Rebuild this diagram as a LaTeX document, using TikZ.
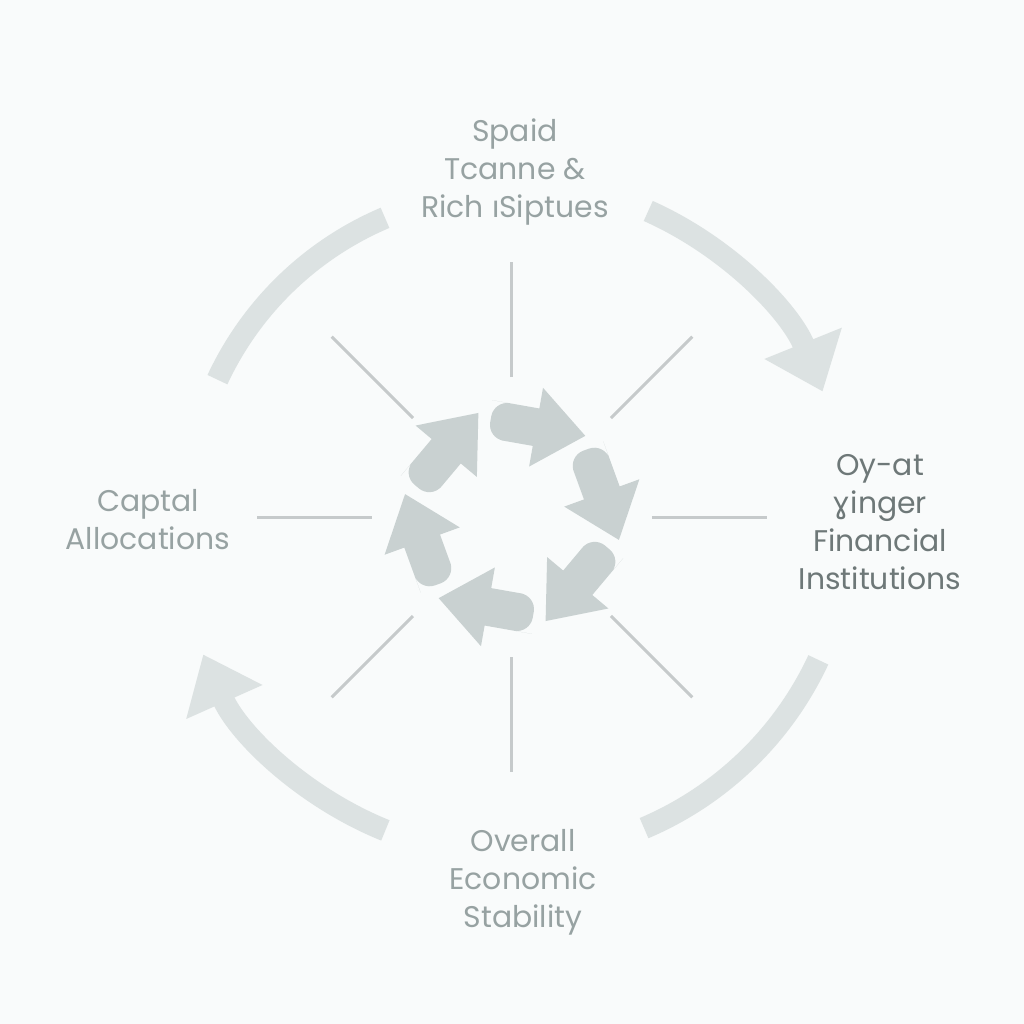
\documentclass[tikz,border=0pt]{standalone}
\usepackage{fontspec}
\setmainfont{Poppins}
\newfontfamily\ipafont{DejaVu Sans}
\usepackage{tikz}
\usetikzlibrary{arrows.meta}
\definecolor{Paper}{HTML}{F9FBFB}
\definecolor{Ring}{HTML}{DCE2E2}
\definecolor{Core}{HTML}{C9D1D1}
\definecolor{Spoke}{HTML}{C6CACB}
\definecolor{Ink}{HTML}{97A2A2}
\definecolor{InkDark}{HTML}{6E7878}

\begin{document}
\begin{tikzpicture}[
  every node/.style={font=\fontsize{8.5}{10.8}\selectfont,text=Ink,align=center},
  ring/.style={line width=2.2mm,Ring},
  ringarr/.style={ring,-{Triangle[width=8mm,length=5.2mm]}},
  spoke/.style={line width=0.3mm,Spoke},
  core/.style={fill=Core}
]
\fill[Paper] (-5.12,-5.12) rectangle (5.12,5.12);
\coordinate (hub) at (0,-0.05);
% outer ring
\draw[ring] (hub) ++(155:3.25) arc[start angle=155,end angle=113,radius=3.25];
\draw[ringarr] (hub) ++(66:3.35) arc[start angle=66,end angle=22,radius=3.35];
\draw[ring] (hub) ++(-25:3.38) arc[start angle=-25,end angle=-67,radius=3.38];
\draw[ringarr] (hub) ++(-112:3.38) arc[start angle=-112,end angle=-156,radius=3.38];
% spokes
\foreach \a in {0,45,...,315}
  \draw[spoke] (hub) ++(\a:1.4) -- ++(\a:1.15);
% small arrows in the middle
\foreach \a in {75,15,...,-225}
  \fill[core,shift={(hub)},rotate=\a,shift={(0.93,0)},rotate=-85]
    (0,0.19) -- (0,0.4) -- (0.5,0) -- (0,-0.4) -- (0,-0.19) -- (-0.32,-0.19)
    {[rounded corners=1.6mm] -- (-0.46,-0.19) -- (-0.46,0.19) -- (-0.32,0.19)} -- cycle;
\node (fast) at (0.03,3.40) {Spaid\\Tcanne \&\\Rich ıSiptues};
\node[text=InkDark] (banks) at (3.68,-0.10) {Oy-at\\{\ipafont ɣ}inger\\Financial\\Institutions};
\node (capital) at (-3.64,-0.08) {Captal\\Allocations};
\node (stable) at (0.11,-3.70) {Overall\\Economic\\Stability};
\end{tikzpicture}
\end{document}
